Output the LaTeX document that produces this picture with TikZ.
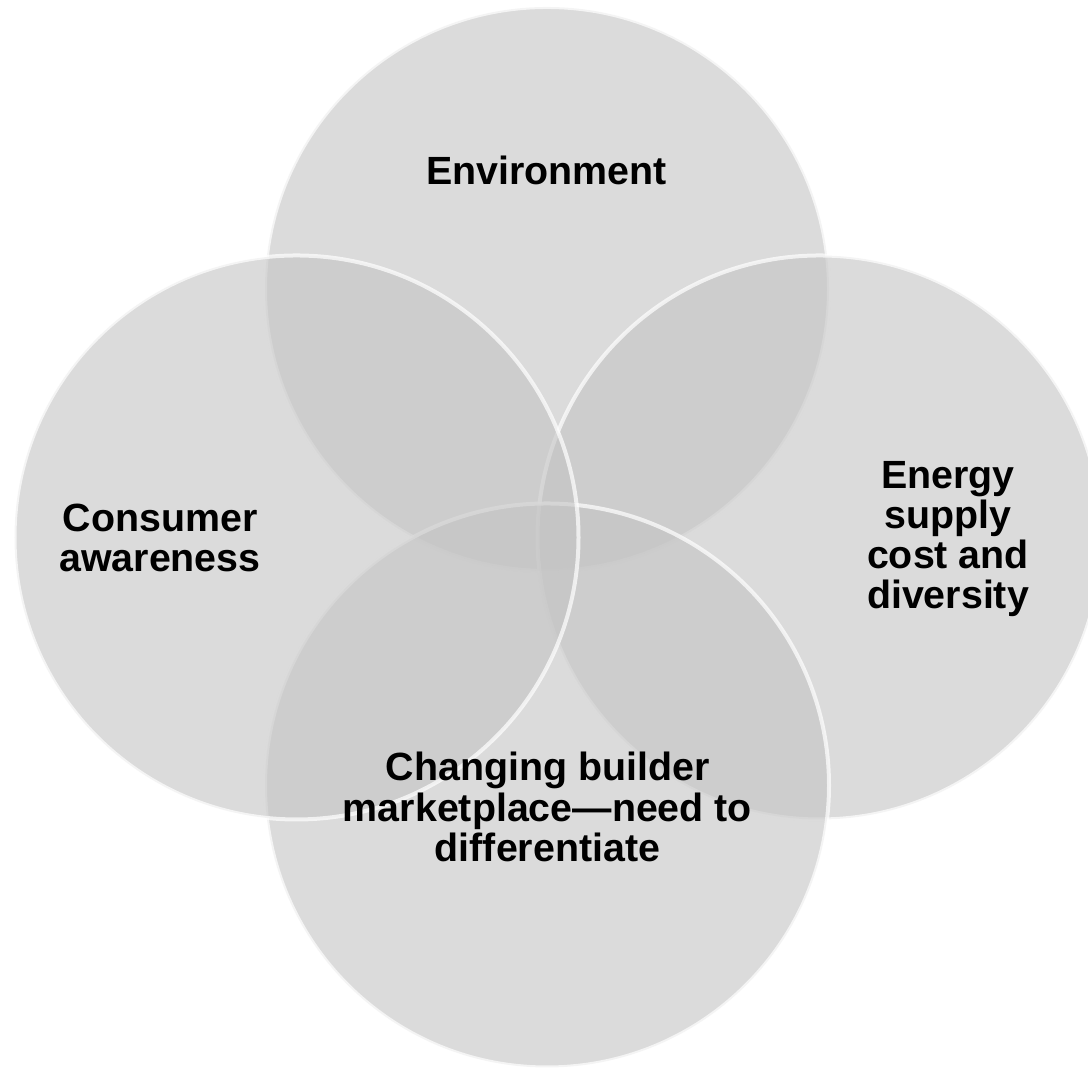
\documentclass[tikz,border=0pt]{standalone}
\usepackage{fontspec}
\setmainfont{Liberation Sans}
\usepackage{tikz}
\tikzset{
	venn/.style={fill=black!23, fill opacity=0.61, draw=white, draw opacity=0.7, line width=0.04cm},
	lbl/.style={align=center, text=black, font=\bfseries\fontsize{11.2pt}{11.4pt}\selectfont}
}

\begin{document}
\begin{tikzpicture}
			%%%%% START %%%%%
			
			\useasboundingbox (0, 0) rectangle (10.88, 10.69);
			
			\draw[venn] (5.47, 7.80) circle (2.82);
			\draw[venn] (8.195, 5.315) circle (2.82);
			\draw[venn] (5.47, 2.835) circle (2.82);
			\draw[venn] (2.965, 5.315) circle (2.82);
			
			\node[lbl] (env) at (5.465, 8.99) {Environment};
			\node[lbl] (cons) at (1.60, 5.31) {Consumer\\awareness};
			\node[lbl] (energy) at (9.48, 5.30) {Energy\\supply\\cost and\\diversity};
			\node[lbl] (market) at (5.475, 2.62) {Changing builder\\marketplace---need to\\differentiate};
			
			%%%%% END %%%%%
\end{tikzpicture}
\end{document}
